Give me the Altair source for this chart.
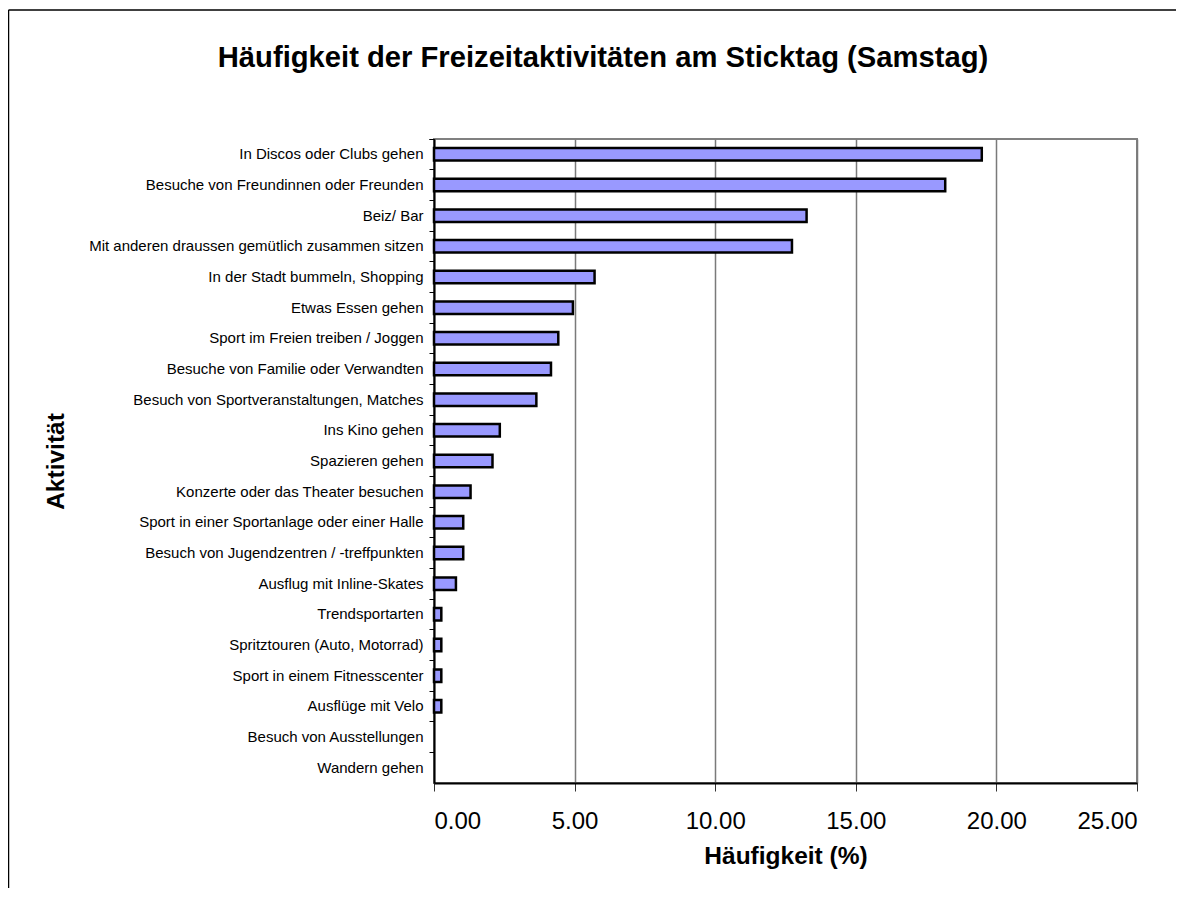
import altair as alt
import pandas as pd

activities = [
    "In Discos oder Clubs gehen",
    "Besuche von Freundinnen oder Freunden",
    "Beiz/ Bar",
    "Mit anderen draussen gemütlich zusammen sitzen",
    "In der Stadt bummeln, Shopping",
    "Etwas Essen gehen",
    "Sport im Freien treiben / Joggen",
    "Besuche von Familie oder Verwandten",
    "Besuch von Sportveranstaltungen, Matches",
    "Ins Kino gehen",
    "Spazieren gehen",
    "Konzerte oder das Theater besuchen",
    "Sport in einer Sportanlage oder einer Halle",
    "Besuch von Jugendzentren / -treffpunkten",
    "Ausflug mit Inline-Skates",
    "Trendsportarten",
    "Spritztouren (Auto, Motorrad)",
    "Sport in einem Fitnesscenter",
    "Ausflüge mit Velo",
    "Besuch von Ausstellungen",
    "Wandern gehen",
]
values = [19.48, 18.18, 13.25, 12.73, 5.71, 4.94, 4.42, 4.16, 3.64, 2.34, 2.08,
          1.30, 1.04, 1.04, 0.78, 0.26, 0.26, 0.26, 0.26, 0.0, 0.0]
x_ticks = [0, 5, 10, 15, 20, 25]

title_text = "Häufigkeit der Freizeitaktivitäten am Sticktag (Samstag)"
x_title = "Häufigkeit (%)"
y_title = "Aktivität"

df = pd.DataFrame({"Aktivität": activities, "Wert": values})

FONT = "Liberation Sans"

bars = alt.Chart(df).mark_bar(
    color="#9999FF", stroke="black",
    height=alt.RelativeBandSize(0.41)
).encode(
    x=alt.X("Wert:Q",
            scale=alt.Scale(domain=[0, 25], nice=False, zero=True),
            axis=alt.Axis(values=x_ticks, format=".2f", title=x_title,
                          grid=True, gridColor="#7a7a7a", gridWidth=1.5,
                          domainColor="black", domainWidth=2,
                          tickColor="#333333", tickSize=8, tickWidth=1,
                          labelFont=FONT, labelFontSize=24, labelColor="black",
                          labelBaseline="alphabetic", labelPadding=37,
                          titleFont=FONT, titleFontSize=24.5, titleFontWeight="bold",
                          titleColor="black", titleBaseline="alphabetic", titleY=80)),
    y=alt.Y("Aktivität:N", sort=activities,
            scale=alt.Scale(paddingInner=0, paddingOuter=0),
            axis=alt.Axis(title=y_title, bandPosition=0, tickExtra=True,
                          domainColor="black", domainWidth=2,
                          tickColor="black", tickSize=5, tickWidth=1,
                          labelFont=FONT, labelFontSize=15, labelColor="black",
                          labelPadding=6, labelLimit=500,
                          titleFont=FONT, titleFontSize=24.5, titleFontWeight="bold",
                          titleColor="black", titleAngle=-90, titleAlign="center",
                          titleBaseline="alphabetic", titleX=-371, titleY=322)),
    strokeWidth=alt.condition("datum.Wert > 0", alt.value(2.5), alt.value(0)),
)

frame_df = pd.DataFrame({"k": [0]})
frame_left = alt.Chart(frame_df).mark_rule(color="black", strokeWidth=1.5).encode(
    x=alt.value(-425.5), y=alt.value(-129), y2=alt.value(900)
)
frame_top = alt.Chart(frame_df).mark_rule(color="black", strokeWidth=1.5).encode(
    x=alt.value(-425.5), x2=alt.value(900), y=alt.value(-129)
)

title_df = pd.DataFrame({"t": [title_text]})
title = alt.Chart(title_df).mark_text(
    font=FONT, fontSize=29.2, fontWeight="bold", color="black",
    align="center", baseline="middle"
).encode(text="t:N", x=alt.value(169), y=alt.value(-81))

chart = alt.layer(bars, frame_left, frame_top, title).properties(
    width=703, height=644,
    padding={"left": 426, "top": 131, "right": 39, "bottom": 105},
    autosize=alt.AutoSizeParams(type="none"),
    background="white",
).configure_view(stroke="#808080", strokeWidth=2)

chart.save("out.html", embed_options={"renderer": "svg", "actions": False})
